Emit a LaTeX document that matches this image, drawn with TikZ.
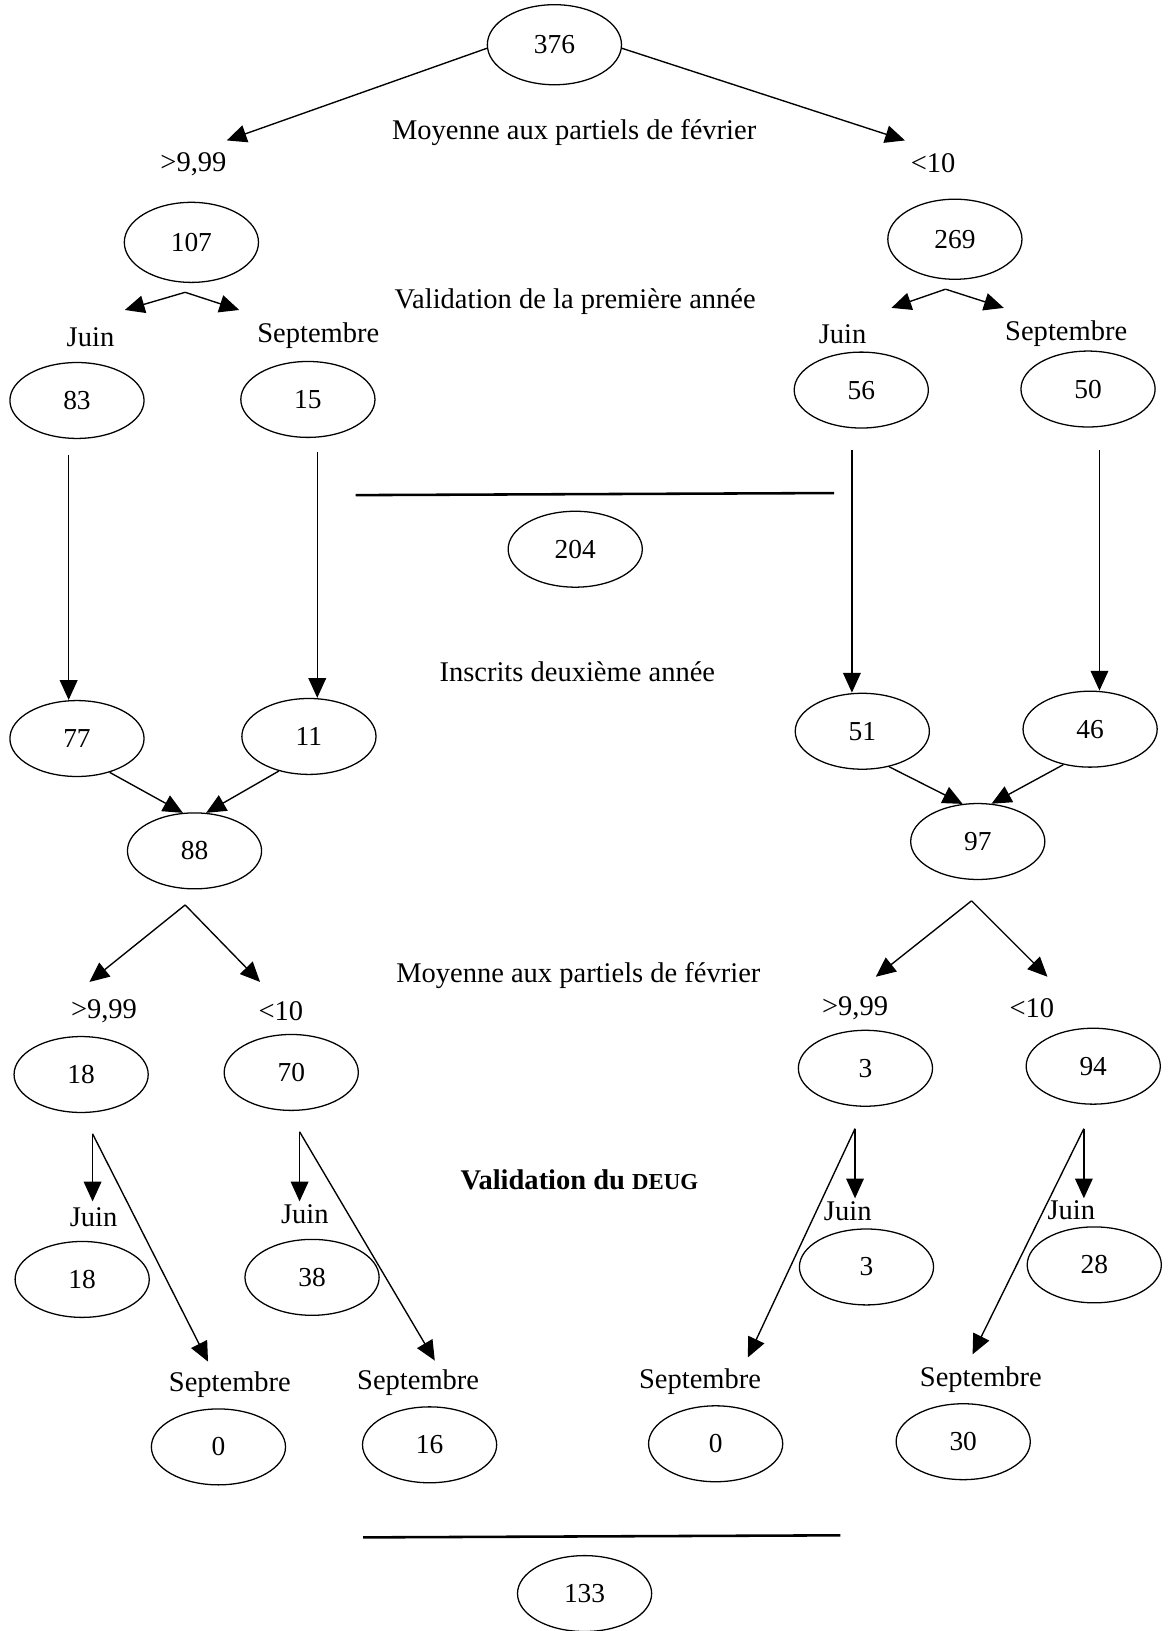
\documentclass[tikz,border=0pt]{standalone}
\usepackage{fontspec}
\setmainfont{Liberation Serif}
\usetikzlibrary{shapes.geometric,arrows.meta}
\begin{document}
\begin{tikzpicture}[x=0.02cm,y=-0.02cm,
  count/.style={ellipse,draw,line width=0.7pt,minimum width=2.58cm,minimum height=1.46cm,inner sep=0pt,font=\fontsize{15}{18}\selectfont},
  bigcount/.style={count,minimum height=1.54cm},
  lbl/.style={font=\fontsize{15.6}{18}\selectfont,inner sep=0pt},
  flow/.style={line width=0.75pt,-{Triangle[length=0.38cm,width=0.34cm]}},
  rulebar/.style={line width=1.4pt}]
\useasboundingbox (0,0) rectangle (1126,1568);

% ---- first year ----
\node[bigcount] (n376) at (533,43) {376};
\node[lbl] (t1) at (552,127) {Moyenne aux partiels de février};
\node[lbl] (g1) at (186,158) {>9,99};
\node[lbl] (l1) at (897,157) {<10};
\node[bigcount] (n107) at (184,233) {107};
\node[bigcount] (n269) at (918,230) {269};
\node[lbl] (t2) at (553,290) {Validation de la première année};
\node[lbl] (j1) at (87,324) {Juin};
\node[lbl] (s1) at (306,323) {Septembre};
\node[lbl] (j2) at (810,321) {Juin};
\node[lbl] (s2) at (1025,321) {Septembre};
\node[count] (n83) at (74,385) {83};
\node[count] (n15) at (296,384) {15};
\node[count] (n56) at (828,375) {56};
\node[count] (n50) at (1046,374) {50};

\coordinate (e376l) at (218,135);
\coordinate (e376r) at (870,135);
\draw[flow] (n376.183) -- (e376l);
\draw[flow] (n376.-3) -- (e376r);

\coordinate (a107) at (178,281);
\coordinate (a107l) at (120,298);
\coordinate (a107r) at (230,298);
\draw[flow] (a107) -- (a107l);
\draw[flow] (a107) -- (a107r);
\coordinate (a269) at (909,278);
\coordinate (a269l) at (857,296);
\coordinate (a269r) at (965,296);
\draw[flow] (a269) -- (a269l);
\draw[flow] (a269) -- (a269r);

% total admitted to second year
\draw[rulebar] (342,476) -- (802,474);
\node[count] (n204) at (553,528) {204};
\node[lbl] (t3) at (555,646) {Inscrits deuxième année};

% ---- second year ----
\node[count] (n77) at (74,710) {77};
\node[count] (n11) at (297,708) {11};
\node[count] (n51) at (829,703) {51};
\node[count] (n46) at (1048,701) {46};
\node[count] (n88) at (187,818) {88};
\node[count] (n97) at (940,809) {97};

\coordinate (v83) at (66,437);
\coordinate (v15) at (305,435);
\coordinate (v56) at (819,433);
\coordinate (v50) at (1057,433);
\draw[flow] (v83) -- (v83 |- n77.north);
\draw[flow] (v15) -- (v15 |- n11.north);
\draw[flow] (v56) -- (v56 |- n51.north);
\draw[flow] (v50) -- (v50 |- n46.north);

\draw[flow] (n77.-46) -- (n88.107);
\draw[flow] (n11.229) -- (n88.73);
\draw[flow] (n51.-53) -- (n97.112);
\draw[flow] (n46.233) -- (n97.70);

\coordinate (a88) at (178,870);
\coordinate (a88l) at (86,944);
\coordinate (a88r) at (250,944);
\draw[flow] (a88) -- (a88l);
\draw[flow] (a88) -- (a88r);
\coordinate (a97) at (934,866);
\coordinate (a97l) at (842,939);
\coordinate (a97r) at (1007,939);
\draw[flow] (a97) -- (a97l);
\draw[flow] (a97) -- (a97r);

\node[lbl] (t4) at (556,938) {Moyenne aux partiels de février};
\node[lbl] (g2) at (100,972) {>9,99};
\node[lbl] (l2) at (270,972) {<10};
\node[lbl] (g3) at (822,969) {>9,99};
\node[lbl] (l3) at (992,969) {<10};

\node[count] (n18a) at (78,1033) {18};
\node[count] (n70) at (280,1031) {70};
\node[count] (n3a) at (832,1027) {3};
\node[count] (n94) at (1051,1025) {94};

\node[lbl] (t5) at (557,1134) {\textbf{Validation du {\fontsize{12.5}{15}\selectfont DEUG}}};

\node[lbl] (j3) at (90,1170) {Juin};
\node[lbl] (j4) at (293,1167) {Juin};
\node[lbl] (j5) at (815,1164) {Juin};
\node[lbl] (j6) at (1030,1163) {Juin};

\node[count] (n18b) at (79,1230) {18};
\node[count] (n38) at (300,1228) {38};
\node[count] (n3b) at (833,1218) {3};
\node[count] (n28) at (1052,1216) {28};

\node[lbl] (s3) at (221,1331) {Septembre};
\node[lbl] (s4) at (402,1329) {Septembre};
\node[lbl] (s5) at (673,1328) {Septembre};
\node[lbl] (s6) at (943,1326) {Septembre};

\node[count] (n0a) at (210,1391) {0};
\node[count] (n16) at (413,1389) {16};
\node[count] (n0b) at (688,1388) {0};
\node[count] (n30) at (926,1386) {30};

% June / September split below each average group
\coordinate (b18) at (89,1090);
\coordinate (b18j) at (89,1155);
\coordinate (b18s) at (200,1309);
\draw[flow] (b18) -- (b18j);
\draw[flow] (b18) -- (b18s);
\coordinate (b70) at (288,1088);
\coordinate (b70j) at (288,1155);
\coordinate (b70s) at (418,1308);
\draw[flow] (b70) -- (b70j);
\draw[flow] (b70) -- (b70s);
\coordinate (b3) at (822,1085);
\coordinate (b3j) at (822,1152);
\coordinate (b3s) at (719,1305);
\draw[flow] (b3) -- (b3j);
\draw[flow] (b3) -- (b3s);
\coordinate (b94) at (1042,1085);
\coordinate (b94j) at (1042,1152);
\coordinate (b94s) at (935,1302);
\draw[flow] (b94) -- (b94j);
\draw[flow] (b94) -- (b94s);

% total DEUG
\draw[rulebar] (349,1478) -- (808,1476);
\node[count] (n133) at (562,1532) {133};
\end{tikzpicture}
\end{document}
